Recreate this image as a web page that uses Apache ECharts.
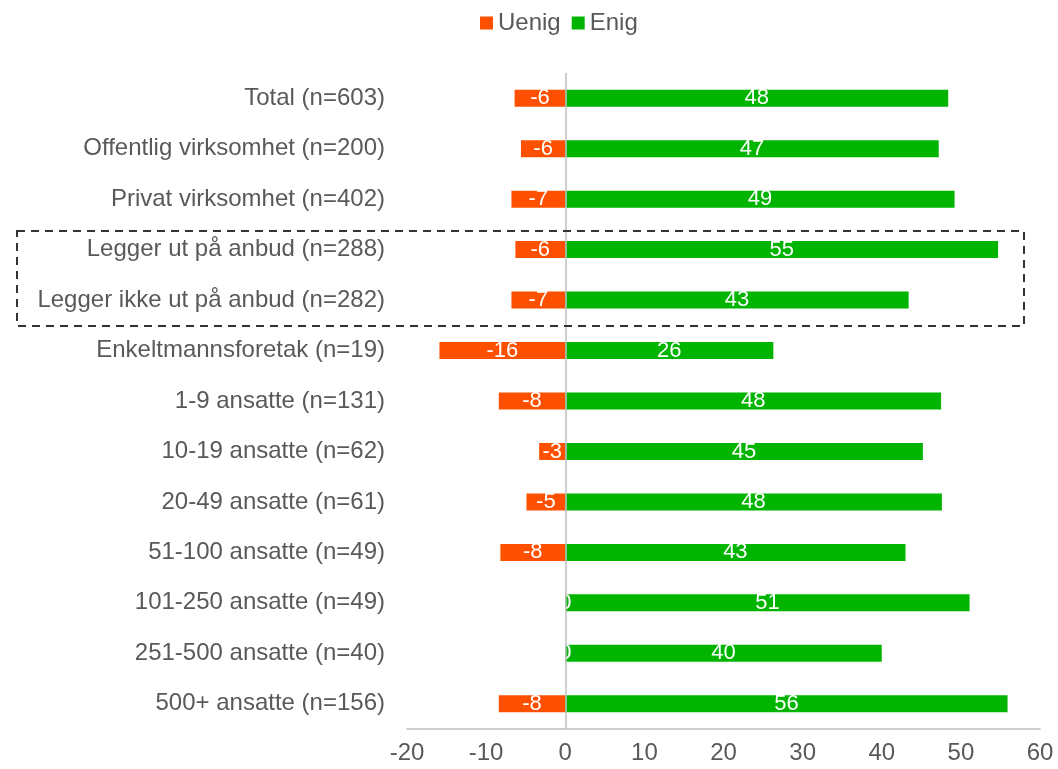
<!DOCTYPE html>
<html>
<head>
<meta charset="utf-8">
<script src="https://cdn.jsdelivr.net/npm/echarts@6/dist/echarts.min.js"></script>
<style>html,body{margin:0;padding:0;background:#fff}#c{width:1058px;height:769px}</style>
</head>
<body>
<div id="c"></div>
<script>
const categories = ["Total (n=603)","Offentlig virksomhet (n=200)","Privat virksomhet (n=402)","Legger ut på anbud (n=288)","Legger ikke ut på anbud (n=282)","Enkeltmannsforetak (n=19)","1-9 ansatte (n=131)","10-19 ansatte (n=62)","20-49 ansatte (n=61)","51-100 ansatte (n=49)","101-250 ansatte (n=49)","251-500 ansatte (n=40)","500+ ansatte (n=156)"];
const uenig = [-6.4, -5.6, -6.8, -6.3, -6.8, -15.9, -8.4, -3.3, -4.9, -8.2, 0, 0, -8.4];
const enig = [48.4, 47.2, 49.2, 54.7, 43.4, 26.3, 47.5, 45.2, 47.6, 43.0, 51.1, 40.0, 55.9];
const xTicks = {min: -20, max: 60, interval: 10};

const chart = echarts.init(document.getElementById('c'));
const font = '"Liberation Sans", Arial, sans-serif';
const txt = '#595959';
chart.setOption({
  animation: false,
  textStyle: {fontFamily: font},
  legend: {
    top: 6, left: 475,
    itemWidth: 13, itemHeight: 13, itemGap: 11,
    icon: 'rect',
    textStyle: {fontSize: 24, color: txt, fontFamily: font},
    data: ['Uenig', 'Enig']
  },
  grid: {left: 407, right: 18, top: 73, bottom: 40, containLabel: false},
  xAxis: {
    type: 'value', min: xTicks.min, max: xTicks.max, interval: xTicks.interval,
    axisLine: {show: true, lineStyle: {color: '#bfbfbf', width: 1.5}},
    axisTick: {show: false},
    splitLine: {show: false},
    axisLabel: {fontSize: 24, color: txt, margin: 12, fontFamily: font}
  },
  yAxis: {
    type: 'category', data: categories, inverse: true,
    axisLine: {show: false}, axisTick: {show: false},
    axisLabel: {fontSize: 24, color: txt, margin: 22, fontFamily: font}
  },
  graphic: [{
    type: 'rect', shape: {x: 17, y: 231, width: 1007, height: 95},
    style: {fill: 'none', stroke: '#333', lineWidth: 2, lineDash: [8, 6]}, z: 100
  }],
  series: [
    {
      name: 'Uenig', type: 'bar', data: uenig, barWidth: 17, barGap: '-100%',
      itemStyle: {color: '#ff5000'},
      label: {show: true, position: 'inside', color: '#fff', fontSize: 22, fontFamily: font,
        formatter: p => String(Math.round(p.value))}
    },
    {
      name: 'Enig', type: 'bar', data: enig, barWidth: 17,
      itemStyle: {color: '#00b400'},
      label: {show: true, position: 'inside', color: '#fff', fontSize: 22, fontFamily: font,
        formatter: p => String(Math.round(p.value))},
      markLine: {
        silent: true, symbol: 'none', label: {show: false},
        lineStyle: {color: '#bfbfbf', width: 1.5, type: 'solid'},
        data: [{xAxis: 0}]
      }
    }
  ]
});
</script>
</body>
</html>
